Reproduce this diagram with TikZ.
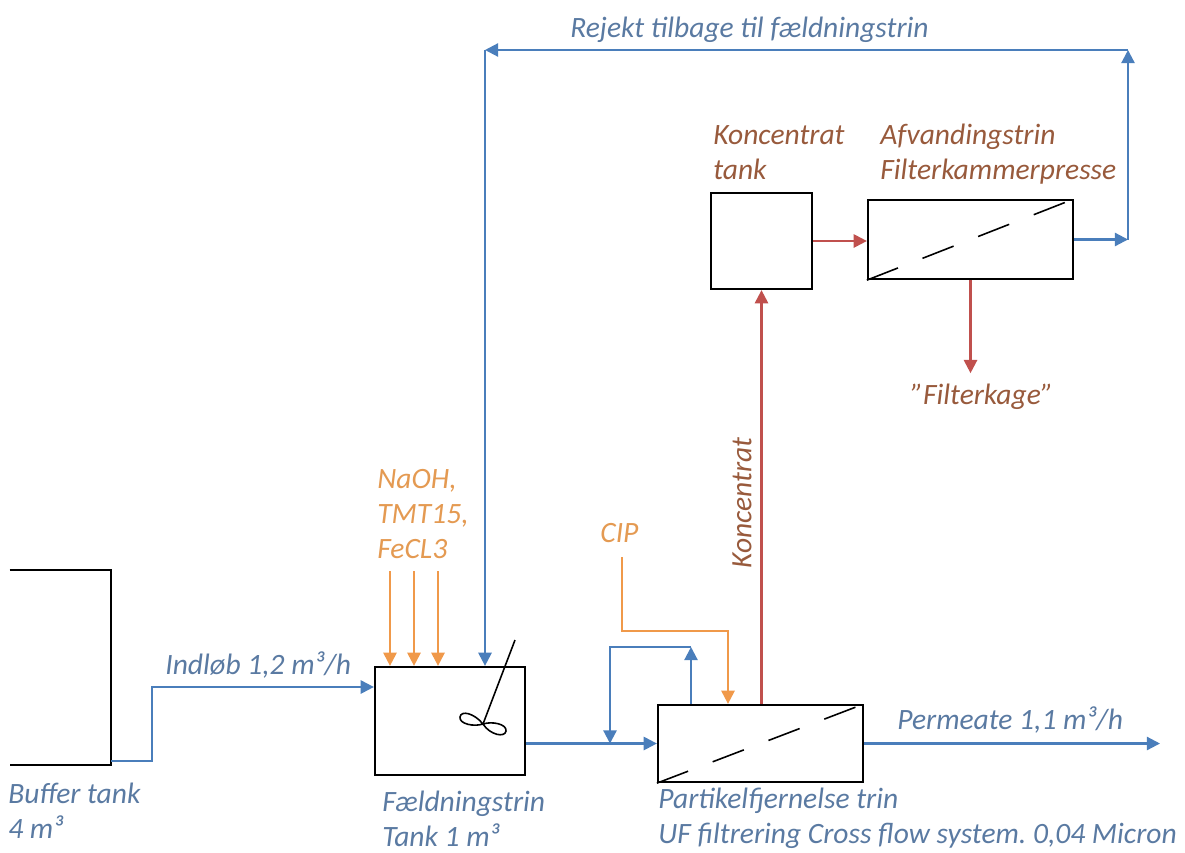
\documentclass[tikz,border=0pt]{standalone}
\usepackage{fontspec}
\setmainfont{Carlito}
\frenchspacing
\definecolor{pBlue}{HTML}{4A7EBB}
\definecolor{pBlueTxt}{HTML}{5A7AA2}
\definecolor{pOrange}{HTML}{F0994A}
\definecolor{pOrangeTxt}{HTML}{E49A52}
\definecolor{pRed}{HTML}{C0504D}
\definecolor{pBrown}{HTML}{985A3C}
\usetikzlibrary{arrows.meta, positioning}

\begin{document}
\begin{tikzpicture}[x=0.02cm, y=-0.02cm,
    unit/.style={draw=black, line width=1.3pt, fill=white, inner sep=0pt},
    flow/.style={line width=1.25pt, -{Triangle[length=7.5pt, width=7.5pt]}},
    lbl/.style={font=\fontsize{16.8}{19.8}\selectfont\itshape, inner sep=0pt, align=left}]
  \useasboundingbox (0,0) rectangle (1185,852);
  % units
  \node[minimum width=2.02cm, minimum height=3.9cm, inner sep=0pt] (buffer) at (60.5,667.5) {};
  \draw[line width=1.3pt] (buffer.north west) -- (buffer.north east) -- (buffer.south east) -- (buffer.south west);
  \node[unit, minimum width=3cm, minimum height=2.16cm] (tank) at (450,721) {};
  \node[unit, minimum width=4.1cm, minimum height=1.54cm] (uf) at (760.5,743.5) {};
  \node[unit, minimum width=2.02cm, minimum height=1.92cm] (ktank) at (761.5,241) {};
  \node[unit, minimum width=4.1cm, minimum height=1.58cm] (press) at (970.5,239.5) {};
  \foreach \u in {uf, press}
    \draw[line width=0.9pt, dash pattern=on 19pt off 15pt] (\u.south west) -- (\u.north east);
  % stirrer
  \draw[line width=0.9pt] (515,640) -- (483,724);
  \draw[line width=0.9pt] (483,724) .. controls (474,713) and (461,710) .. (460,717)
    .. controls (459,724) and (474,727) .. (483,724)
    .. controls (492,721) and (507,724) .. (506,731)
    .. controls (505,738) and (490,735) .. (483,724);
  % labels (base = last line)
  \node[lbl, text=pBlueTxt, anchor=base west] (bufferlbl) at (8,838) {Buffer tank\\4 m³};
  \node[lbl, text=pBlueTxt, anchor=base west] (inlbl) at (165,674) {Indløb 1,2 m³/h};
  \node[lbl, text=pBlueTxt, anchor=base west] (tanklbl) at (382,846) {Fældningstrin\\Tank 1 m³};
  \node[lbl, text=pOrangeTxt, anchor=base west] (chem) at (377,558) {NaOH,\\TMT15,\\FeCL3};
  \node[lbl, text=pOrangeTxt, anchor=base west] (cip) at (600,542) {CIP};
  \node[lbl, text=pBrown, rotate=90] (konclbl) at (742,503) {Koncentrat};
  \node[lbl, text=pBrown, anchor=base west] (ktanklbl) at (713,179) {Koncentrat\\tank};
  \node[lbl, text=pBrown, anchor=base west] (presslbl) at (880,179) {Afvandingstrin\\Filterkammerpresse};
  \node[lbl, text=pBrown, anchor=base] (kage) at (982,404) {”Filterkage”};
  \node[lbl, text=pBlueTxt, anchor=base west] (rejlbl) at (570,37) {Rejekt tilbage til fældningstrin};
  \node[lbl, text=pBlueTxt, anchor=base west] (permlbl) at (897,729) {Permeate 1,1 m³/h};
  \node[lbl, text=pBlueTxt, anchor=base west] (uflbl) at (658,843) {Partikelfjernelse trin\\UF filtrering Cross flow system. 0,04 Micron};
  % blue lines
  \coordinate (inBend) at (152,761);
  \coordinate (inTop) at (152,687);
  \draw[flow, pBlue] (buffer.east |- inBend) -- (inBend) -- (inTop) -- (inTop -| tank.west);
  \draw[flow, pBlue] (tank.east |- uf.west) -- (uf.west);
  \coordinate (recR) at (691,647);
  \coordinate (recL) at (610,647);
  \draw[flow, pBlue] (recR |- uf.north) -- (recR);
  \draw[flow, pBlue] (recR) -- (recL) -- (recL |- uf.west);
  \coordinate (permEnd) at (1160,743.5);
  \draw[flow, pBlue] (uf.east) -- (permEnd);
  \coordinate (rejM) at (1128,239.5);
  \coordinate (rejR) at (1128,50);
  \coordinate (rejL) at (485,50);
  \draw[flow, pBlue] (press.east) -- (rejM);
  \draw[flow, pBlue] (rejM) -- (rejR);
  \draw[flow, pBlue] (rejR) -- (rejL);
  \draw[flow, pBlue] (rejL) -- (rejL |- tank.north);
  % dosing
  \foreach \x [count=\i] in {390,414,438}{
    \coordinate (dose\i) at (\x,571);
    \draw[flow, pOrange] (dose\i) -- (dose\i |- tank.north);}
  \coordinate (cipTop) at (622,557);
  \coordinate (cipBend) at (728,631);
  \draw[flow, pOrange] (cipTop) |- (cipBend) -- (cipBend |- uf.north);
  % red lines
  \draw[flow, pRed] (ktank.south |- uf.north) -- (ktank.south);
  \draw[flow, pRed] (ktank.east) -- (ktank.east -| press.west);
  \draw[flow, pRed] (press.south) -- ([yshift=0.2cm]press.south |- kage.north);
\end{tikzpicture}
\end{document}
